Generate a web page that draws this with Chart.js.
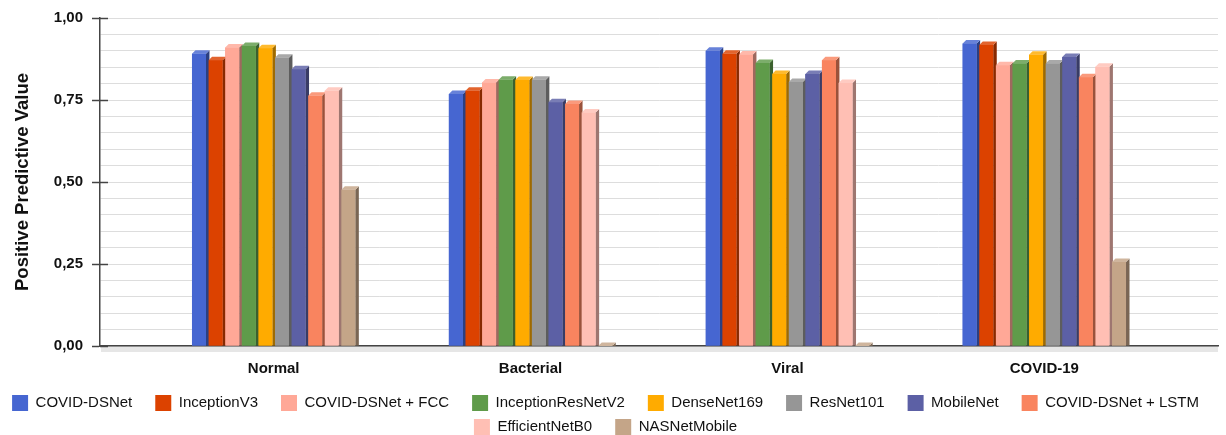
<!DOCTYPE html>
<html>
<head>
<meta charset="utf-8">
<script src="https://cdn.jsdelivr.net/npm/chart.js@4.4.0/dist/chart.umd.min.js"></script>
<style>
  html, body { margin: 0; padding: 0; background: #fff; }
  #wrap { width: 1226px; height: 435px; }
</style>
</head>
<body>
<div id="wrap"><canvas id="c" width="1226" height="435"></canvas></div>
<script>
// Classes on the x axis
const categories = ['Normal', 'Bacterial', 'Viral', 'COVID-19'];

// Positive predictive value per model, in class order
const covidDsnet        = [0.891, 0.768, 0.900, 0.922];
const inceptionV3       = [0.871, 0.778, 0.891, 0.918];
const covidDsnetFcc     = [0.910, 0.803, 0.889, 0.856];
const inceptionResNetV2 = [0.915, 0.812, 0.863, 0.861];
const denseNet169       = [0.908, 0.811, 0.829, 0.888];
const resNet101         = [0.879, 0.812, 0.805, 0.861];
const mobileNet         = [0.844, 0.743, 0.829, 0.881];
const covidDsnetLstm    = [0.763, 0.738, 0.871, 0.819];
const efficientNetB0    = [0.778, 0.712, 0.802, 0.851];
const nasNetMobile      = [0.476, 0.000, 0.000, 0.256];

const seriesNames = ['COVID-DSNet', 'InceptionV3', 'COVID-DSNet + FCC', 'InceptionResNetV2',
  'DenseNet169', 'ResNet101', 'MobileNet', 'COVID-DSNet + LSTM', 'EfficientNetB0', 'NASNetMobile'];
const seriesValues = [covidDsnet, inceptionV3, covidDsnetFcc, inceptionResNetV2, denseNet169,
  resNet101, mobileNet, covidDsnetLstm, efficientNetB0, nasNetMobile];
const seriesColors = ['#4666d1', '#dc4200', '#ffa897', '#5f9b4a', '#ffab00',
  '#969696', '#5c60a5', '#f9845f', '#ffbfb4', '#c4a588'];

// Labelled y ticks (gridlines every 0.05)
const yTickLabels = [0, 0.25, 0.5, 0.75, 1];

const isLabelled = v => yTickLabels.some(t => Math.abs(t - v) < 1e-6);

function hexToRgb(h) {
  const n = parseInt(h.slice(1), 16);
  return [(n >> 16) & 255, (n >> 8) & 255, n & 255];
}
function shade(h, f) {
  const [r, g, b] = hexToRgb(h);
  return `rgb(${Math.round(r * f)},${Math.round(g * f)},${Math.round(b * f)})`;
}
function tint(h, f) {
  const [r, g, b] = hexToRgb(h);
  return `rgb(${Math.round(r + (255 - r) * f)},${Math.round(g + (255 - g) * f)},${Math.round(b + (255 - b) * f)})`;
}

// Gives each bar a shallow extruded look: a dark right side and a light top face
const DEPTH = 3.5;
const bars3d = {
  id: 'bars3d',
  beforeDatasetsDraw(chart) {
    const { ctx, chartArea } = chart;
    ctx.save();
    ctx.fillStyle = '#e6e6e6';
    ctx.fillRect(chartArea.left + 1, chartArea.bottom + 1, chartArea.right - chartArea.left - 1, 5);
    ctx.restore();
  },
  afterDatasetsDraw(chart) {
    const ctx = chart.ctx;
    const metas = chart.getSortedVisibleDatasetMetas();
    ctx.save();
    metas.forEach(meta => {
      const col = seriesColors[meta.index];
      meta.data.forEach(bar => {
        const { x, y, base, width } = bar.getProps(['x', 'y', 'base', 'width'], true);
        const l = x - width / 2, r = x + width / 2;
        ctx.fillStyle = shade(col, 0.62);
        ctx.beginPath();
        ctx.moveTo(r, y); ctx.lineTo(r + DEPTH, y - DEPTH);
        ctx.lineTo(r + DEPTH, base); ctx.lineTo(r, base);
        ctx.closePath(); ctx.fill();
        ctx.fillStyle = tint(col, 0.18);
        ctx.beginPath();
        ctx.moveTo(l, y); ctx.lineTo(l + DEPTH, y - DEPTH);
        ctx.lineTo(r + DEPTH, y - DEPTH); ctx.lineTo(r, y);
        ctx.closePath(); ctx.fill();
      });
    });
    // front faces go back on top so each bar hides its left neighbour's side
    metas.forEach(meta => meta.data.forEach(bar => bar.draw(ctx)));
    ctx.restore();
  },
  afterDraw(chart) {
    // tick marks that cross the value axis
    const { ctx, chartArea, scales } = chart;
    ctx.save();
    ctx.strokeStyle = '#444';
    ctx.lineWidth = 1.5;
    yTickLabels.forEach(v => {
      const py = Math.round(scales.y.getPixelForValue(v)) + 0.5;
      ctx.beginPath();
      ctx.moveTo(chartArea.left, py);
      ctx.lineTo(chartArea.left + 8, py);
      ctx.stroke();
    });
    ctx.restore();
  }
};

Chart.defaults.font.family = '"Liberation Sans", Arial, sans-serif';
Chart.defaults.color = '#111';

new Chart(document.getElementById('c'), {
  type: 'bar',
  data: {
    datasets: seriesNames.map((name, k) => ({
      label: name,
      data: seriesValues[k].map((v, i) => ({ x: i, y: v })),
      backgroundColor: seriesColors[k],
      borderWidth: 0,
      categoryPercentage: 0.646,
      barPercentage: 0.843
    }))
  },
  options: {
    responsive: false,
    animation: false,
    layout: { padding: { top: 17, right: 0, bottom: -10, left: 0 } },
    plugins: {
      tooltip: { enabled: false },
      legend: {
        position: 'bottom',
        labels: {
          boxWidth: 16,
          boxHeight: 16,
          padding: 8,
          color: '#111',
          font: { size: 15 },
          generateLabels(chart) {
            const items = Chart.defaults.plugins.legend.labels.generateLabels(chart);
            items.forEach(it => { it.text = it.text + '\u2003'; it.lineWidth = 0; });
            return items;
          }
        }
      }
    },
    scales: {
      x: {
        type: 'linear',
        offset: false,
        min: -0.676,
        max: 3.676,
        afterBuildTicks(s) { s.ticks = categories.map((_, i) => ({ value: i })); },
        afterFit(s) { s.height = 41; },
        ticks: {
          autoSkip: false,
          maxRotation: 0,
          padding: 14,
          color: '#111',
          font: { size: 15, weight: 'bold' },
          callback: v => categories[v] ?? ''
        },
        grid: { display: false, drawTicks: false, offset: false },
        border: { color: '#444', width: 1.5 }
      },
      y: {
        min: 0,
        max: 1,
        afterFit(s) { s.width = 100; },
        ticks: {
          stepSize: 0.05,
          autoSkip: false,
          padding: 9,
          color: '#111',
          font: { size: 15, weight: 'bold' },
          callback: v => isLabelled(v) ? v.toFixed(2).replace('.', ',') : ''
        },
        grid: {
          color: '#dddddd',
          tickLength: 8,
          tickColor: c => (c.tick && isLabelled(c.tick.value)) ? '#444' : 'rgba(0,0,0,0)',
          tickWidth: 1.5
        },
        border: { color: '#444', width: 1.5 },
        title: {
          display: true,
          text: 'Positive Predictive Value',
          color: '#111',
          font: { size: 18.5, weight: 'bold' },
          padding: { top: 12, bottom: 0 }
        }
      },
      // empty right-hand margin strip
      yRight: {
        position: 'right',
        display: true,
        min: 0,
        max: 1,
        afterFit(s) { s.width = 8; },
        ticks: { display: false },
        grid: { display: false, drawTicks: false },
        border: { display: false }
      }
    }
  },
  plugins: [bars3d]
});
</script>
</body>
</html>
